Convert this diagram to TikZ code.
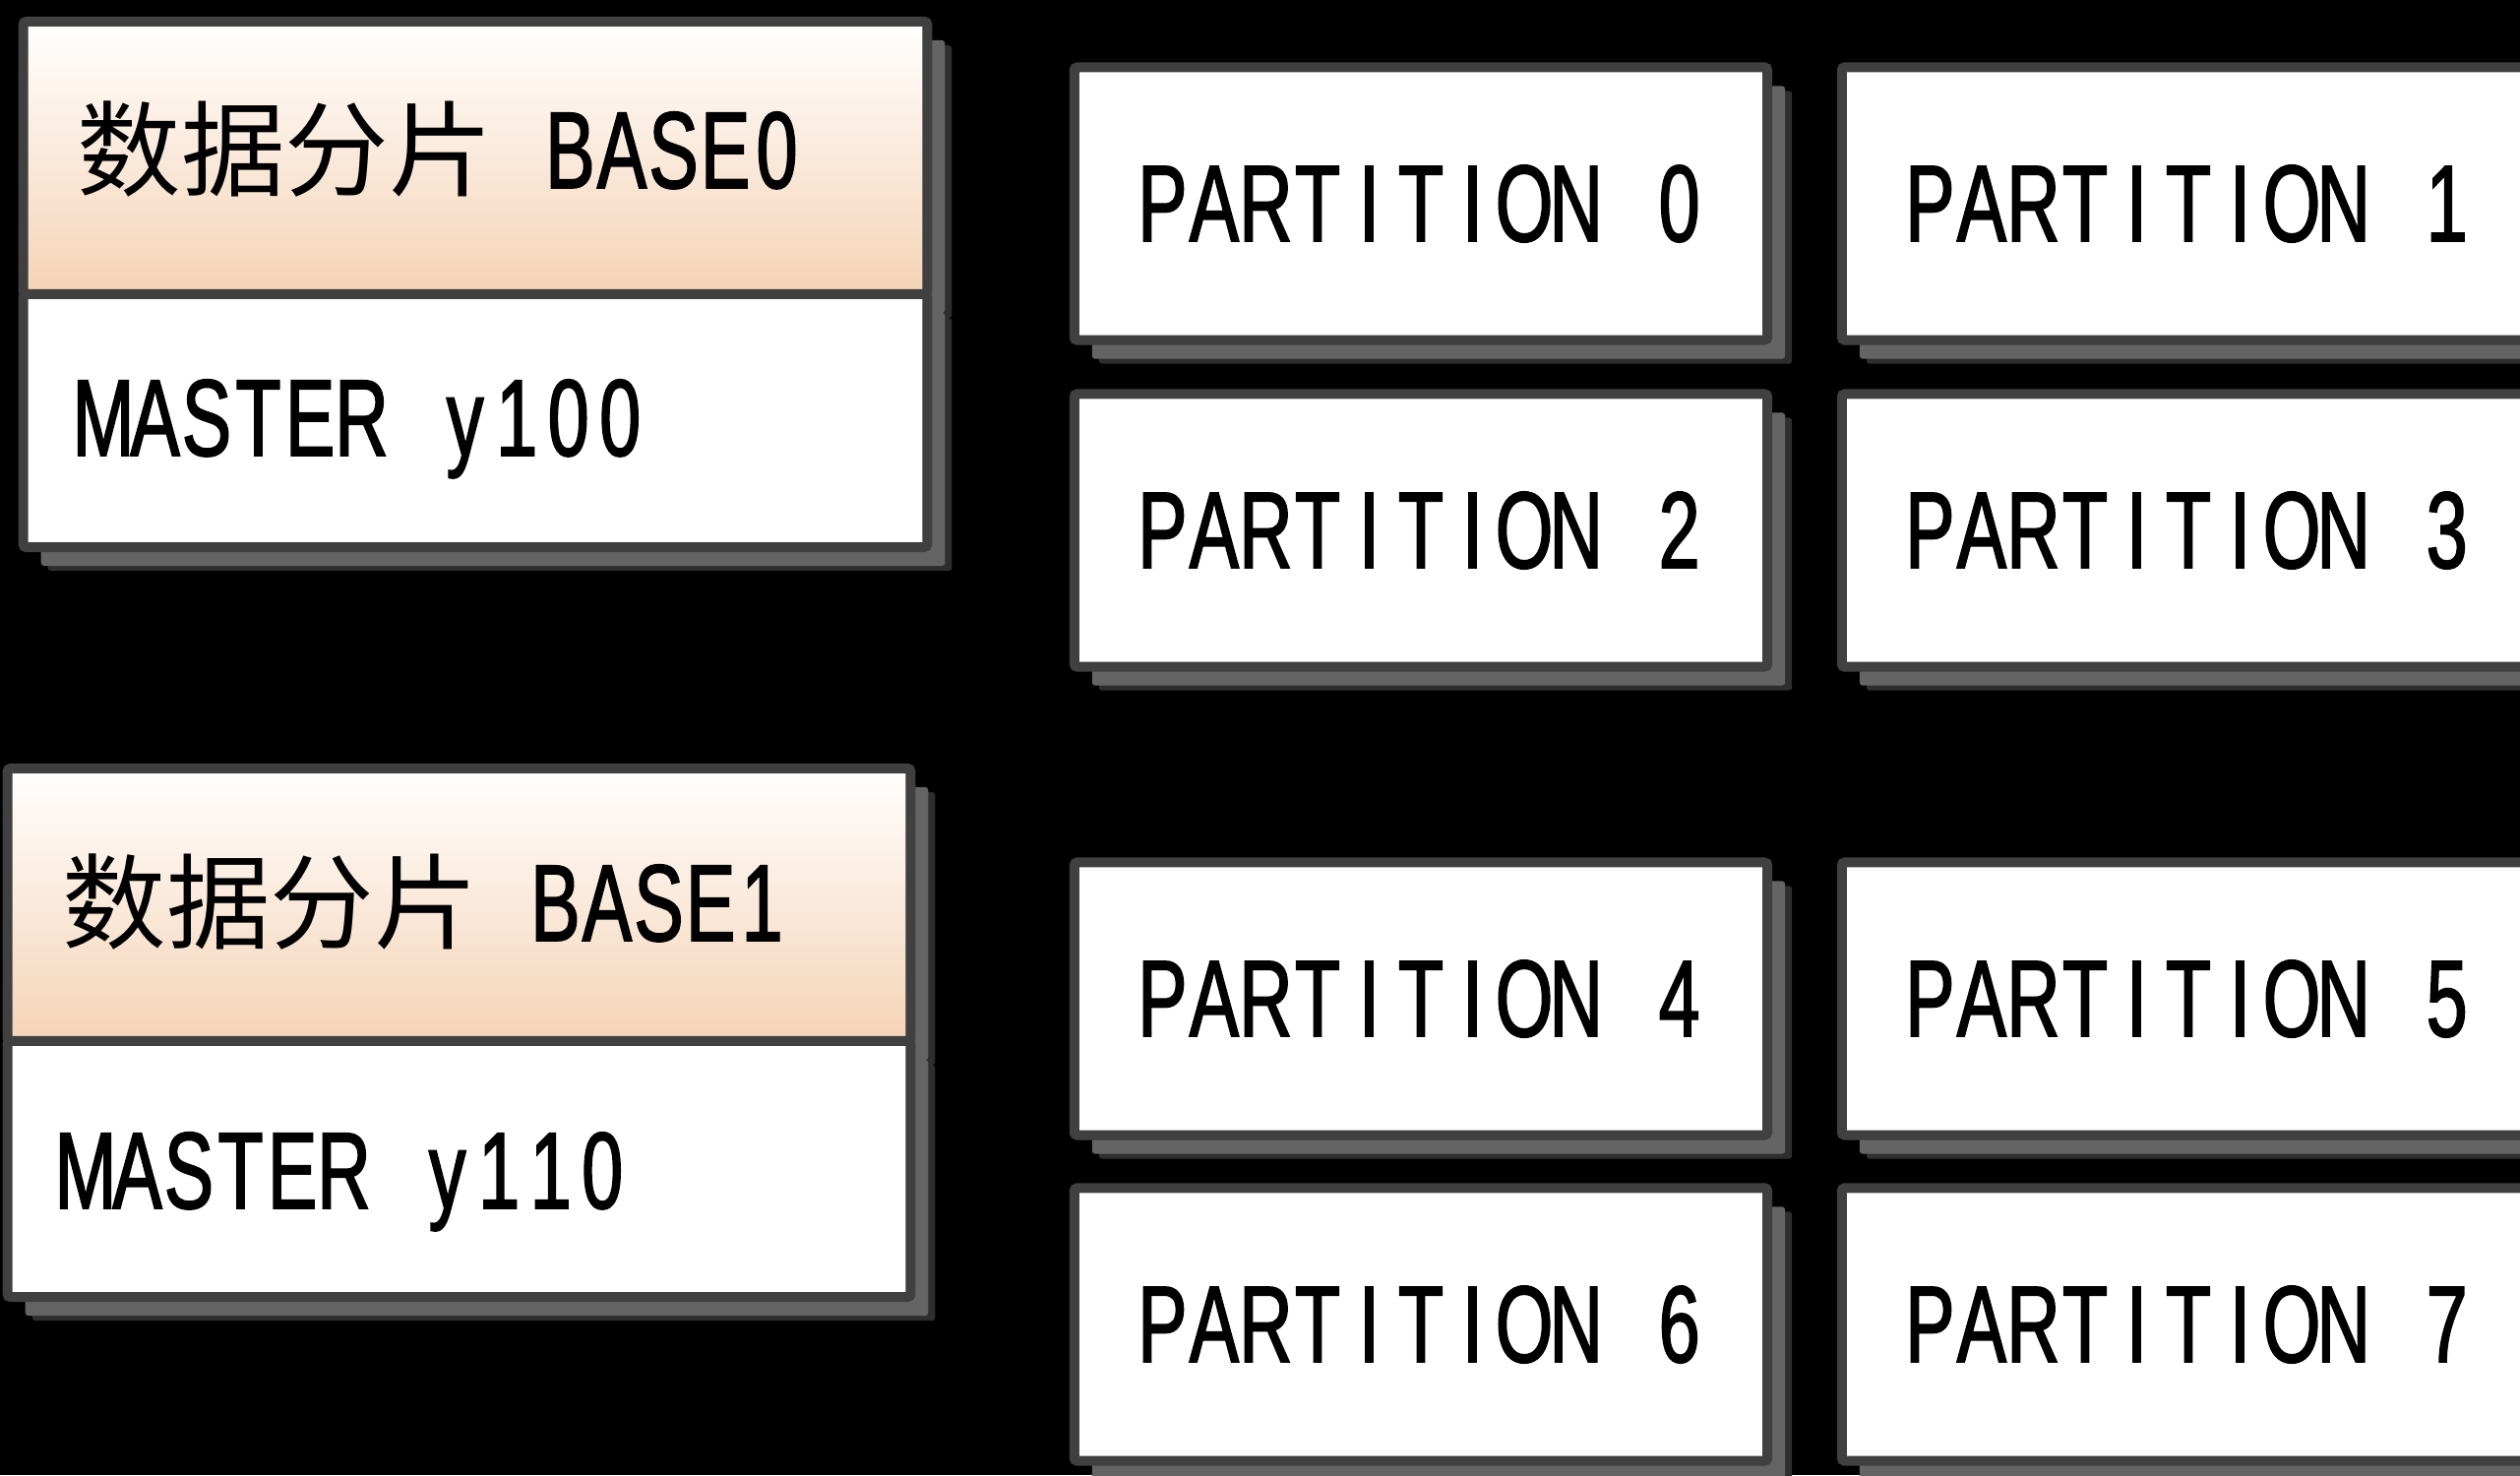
\documentclass[tikz,border=0pt]{standalone}
\usepackage{fontspec}
\usetikzlibrary{shadows}
\newfontfamily\latinf{Liberation Sans}[FakeStretch=0.68, FakeBold=1.5]
\newfontfamily\cjkf{Noto Sans CJK SC}
\ExplSyntaxOn
\NewDocumentCommand\mono{m}{\str_map_inline:nn{#1}{\makebox[0.525cm]{##1}}}
\ExplSyntaxOff
\definecolor{boxline}{HTML}{404040}
\definecolor{peach}{HTML}{F5D3B6}
\definecolor{shdark}{HTML}{2E2E2E}
\definecolor{shlight}{HTML}{646464}
\tikzset{
  shadowed/.style={
    drop shadow={shadow xshift=0.25cm, shadow yshift=-0.24cm, fill=shdark, opacity=1},
    drop shadow={shadow xshift=0.18cm, shadow yshift=-0.19cm, fill=shlight, opacity=1}},
  framebox/.style={draw=boxline, line width=0.1cm, rounded corners=0.03cm, inner sep=0pt, shadowed},
  pbox/.style={framebox, fill=white, minimum width=7.04cm, minimum height=2.77cm,
    font=\latinf\fontsize{31.5pt}{31.5pt}\selectfont},
  headbox/.style={framebox, top color=white, bottom color=peach, minimum height=2.77cm},
  masterbox/.style={framebox, fill=white},
  lbl/.style={inner sep=0pt, anchor=base west, font=\fontsize{31.5pt}{31.5pt}\selectfont}
}
\begin{document}
\begin{tikzpicture}[x=0.01cm, y=-0.01cm]
\fill[black] (0,0) rectangle (2561,1499);
\useasboundingbox (0,0) rectangle (2561,1499);

% BASE0
\node[headbox, minimum width=9.18cm] (h0) at (483,160.5) {};
\node[masterbox, minimum width=9.18cm, minimum height=2.57cm] (m0) at (483,427.5) {};
\node[lbl] (t0) at (78,191) {\cjkf\fontsize{30pt}{30pt}\selectfont 数据分片\latinf\fontsize{31.5pt}{31.5pt}\selectfont\mono{ BASE0}};
\node[lbl] (s0) at (78,463) {\latinf\mono{MASTER y100}};

% BASE1
\node[headbox, minimum width=9.17cm] (h1) at (466.5,919.5) {};
\node[masterbox, minimum width=9.17cm, minimum height=2.60cm] (m1) at (466.5,1188) {};
\node[lbl] (t1) at (63,956) {\cjkf\fontsize{30pt}{30pt}\selectfont 数据分片\latinf\fontsize{31.5pt}{31.5pt}\selectfont\mono{ BASE1}};
\node[lbl] (s1) at (60,1228) {\latinf\mono{MASTER y110}};

% partitions
\node[pbox] (p0) at (1444,207) {\mono{PARTITION 0}};
\node[pbox] (p1) at (2224,207) {\mono{PARTITION 1}};
\node[pbox] (p2) at (1444,539) {\mono{PARTITION 2}};
\node[pbox] (p3) at (2224,539) {\mono{PARTITION 3}};
\node[pbox] (p4) at (1444,1015) {\mono{PARTITION 4}};
\node[pbox] (p5) at (2224,1015) {\mono{PARTITION 5}};
\node[pbox] (p6) at (1444,1346) {\mono{PARTITION 6}};
\node[pbox] (p7) at (2224,1346) {\mono{PARTITION 7}};
\end{tikzpicture}
\end{document}
